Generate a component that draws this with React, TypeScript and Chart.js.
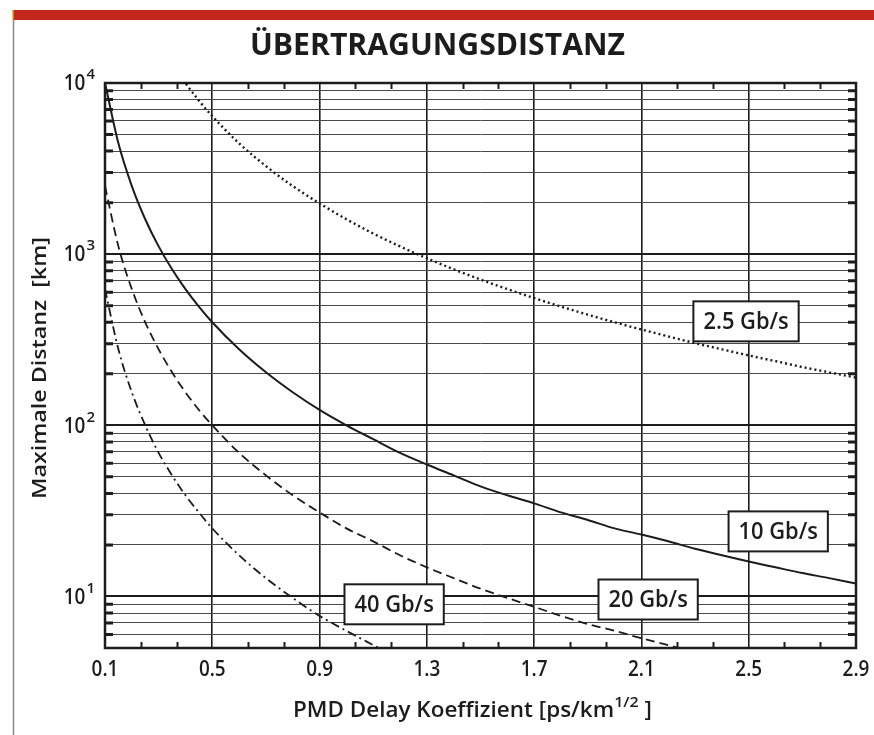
import React, { useEffect, useRef } from "react";
import { Chart, registerables } from "chart.js";

Chart.register(...registerables);

// ---- data ----
const xValues = [0.1, 0.15, 0.2, 0.25, 0.3, 0.35, 0.4, 0.45, 0.5, 0.6, 0.7, 0.8, 0.9, 1.0, 1.1, 1.2, 1.3, 1.4, 1.5, 1.6, 1.7, 1.8, 1.9, 2.0, 2.1, 2.2, 2.3, 2.4, 2.5, 2.6, 2.7, 2.8, 2.9];
const rate2_5 = [null, null, null, null, null, 13100, 10000, 7900, 6400, 4440, 3270, 2500, 1980, 1600, 1320, 1110, 947, 816, 711, 625, 554, 494, 443, 400, 363, 331, 302, 278, 256, 237, 219, 204, 190];
const rate10 = [10000, 4440, 2500, 1600, 1110, 816, 625, 494, 400, 278, 204, 156, 123, 100, 83, 69, 59, 51, 44, 39, 35, 31, 28, 25, 23, 21, 19, 17.4, 16, 14.8, 13.7, 12.8, 11.9];
const rate20 = [2500, 1110, 625, 400, 278, 204, 156, 123, 100, 69, 51, 39, 31, 25, 21, 17.4, 14.8, 12.8, 11.1, 9.8, 8.7, 7.7, 6.9, 6.3, 5.7, 5.2, 4.7, 4.3, null, null, null, null, null];
const rate40 = [625, 278, 156, 100, 69, 51, 39, 31, 25, 17.4, 12.8, 9.8, 7.7, 6.3, 5.2, 4.3, 3.7, null, null, null, null, null, null, null, null, null, null, null, null, null, null, null, null];

const xTickValues = [0.1, 0.5, 0.9, 1.3, 1.7, 2.1, 2.5, 2.9];
const xTickLabels = ["0.1", "0.5", "0.9", "1.3", "1.7", "2.1", "2.5", "2.9"];
const yGridValues = [5, 6, 7, 8, 9, 10, 20, 30, 40, 50, 60, 70, 80, 90, 100, 200, 300, 400, 500, 600, 700, 800, 900, 1000, 2000, 3000, 4000, 5000, 6000, 7000, 8000, 9000, 10000];
const yDecades = [10, 100, 1000, 10000];
const yDecadeExps = ["1", "2", "3", "4"];

const curveLabels = ["2.5 Gb/s", "10 Gb/s", "20 Gb/s", "40 Gb/s"];
const curveLabelX = [2.49, 2.61, 2.125, 1.178];
const curveLabelY = [405, 24, 9.6, 9.0];

const TITLE = "ÜBERTRAGUNGSDISTANZ";
const Y_TITLE = "Maximale Distanz  [km]";
const X_TITLE_MAIN = "PMD Delay Koeffizient [ps/km";
const X_TITLE_SUP = "1/2";
const X_TITLE_END = " ]";

const INK = "#1c1c1c";
const FONT = "'Open Sans', 'DejaVu Sans', sans-serif";

function toPoints(series: (number | null)[]) {
  return xValues.map((x, i) => ({ x, y: series[i] }));
}

function scaledText(ctx: CanvasRenderingContext2D, text: string, x: number, y: number, sx: number, align: "left" | "center" | "right") {
  ctx.save();
  ctx.translate(x, y);
  ctx.scale(sx, 1);
  ctx.textAlign = align;
  ctx.fillText(text, 0, 0);
  ctx.restore();
}

const decorPlugin = {
  id: "decor",
  beforeDraw(chart: any) {
    const ctx = chart.ctx as CanvasRenderingContext2D;
    ctx.save();
    ctx.fillStyle = "#ffffff";
    ctx.fillRect(0, 0, chart.width, chart.height);
    // red band at top
    ctx.fillStyle = "#c4281c";
    ctx.fillRect(12, 10, chart.width - 12, 10);
    ctx.fillStyle = "#e8c060";
    ctx.fillRect(12, 10, 1.5, 10);
    // left frame line
    ctx.strokeStyle = "#8a8a8a";
    ctx.lineWidth = 1.5;
    ctx.beginPath();
    ctx.moveTo(13.5, 20);
    ctx.lineTo(13.5, chart.height);
    ctx.stroke();
    ctx.restore();
  },
  afterDatasetsDraw(chart: any) {
    const ctx = chart.ctx as CanvasRenderingContext2D;
    const { left, right, top, bottom } = chart.chartArea;
    const xs = chart.scales.x;
    const ys = chart.scales.y;
    ctx.save();
    // minor x ticks (thirds between majors), top and bottom, pointing inward
    ctx.strokeStyle = INK;
    ctx.lineWidth = 2;
    for (let i = 0; i < xTickValues.length - 1; i++) {
      const a = xTickValues[i];
      const b = xTickValues[i + 1];
      for (let k = 1; k <= 2; k++) {
        const px = Math.round(xs.getPixelForValue(a + ((b - a) * k) / 3)) + 0.5;
        ctx.beginPath();
        ctx.moveTo(px, bottom);
        ctx.lineTo(px, bottom - 6);
        ctx.moveTo(px, top);
        ctx.lineTo(px, top + 6);
        ctx.stroke();
      }
    }
    // minor y ticks left and right
    ctx.lineWidth = 3;
    for (const v of yGridValues) {
      if (yDecades.includes(v) || v === 5) continue;
      const py = ys.getPixelForValue(v);
      ctx.beginPath();
      ctx.moveTo(left, py);
      ctx.lineTo(left + 8, py);
      ctx.moveTo(right, py);
      ctx.lineTo(right - 8, py);
      ctx.stroke();
    }
    // frame
    ctx.lineWidth = 2.5;
    ctx.strokeRect(left, top, right - left, bottom - top);

    // curve label boxes
    ctx.font = `600 23px ${FONT}`;
    ctx.textBaseline = "middle";
    for (let i = 0; i < curveLabels.length; i++) {
      const cx = xs.getPixelForValue(curveLabelX[i]);
      const cy = ys.getPixelForValue(curveLabelY[i]);
      const w = ctx.measureText(curveLabels[i]).width * 0.95 + 20;
      const h = 40;
      ctx.fillStyle = "#ffffff";
      ctx.fillRect(cx - w / 2, cy - h / 2, w, h);
      ctx.strokeStyle = INK;
      ctx.lineWidth = 2;
      ctx.strokeRect(cx - w / 2, cy - h / 2, w, h);
      ctx.fillStyle = INK;
      scaledText(ctx, curveLabels[i], cx, cy + 1, 0.95, "center");
    }
    ctx.restore();
  },
  afterDraw(chart: any) {
    const ctx = chart.ctx as CanvasRenderingContext2D;
    const { left, right, bottom } = chart.chartArea;
    const xs = chart.scales.x;
    const ys = chart.scales.y;
    ctx.save();
    ctx.fillStyle = INK;
    ctx.textBaseline = "middle";

    // title
    ctx.font = `700 31px ${FONT}`;
    const tw = ctx.measureText(TITLE).width;
    scaledText(ctx, TITLE, (left + right) / 2 - 43, 46, 375 / tw, "center");

    // x tick labels
    ctx.font = `600 21px ${FONT}`;
    xTickValues.forEach((v, i) => {
      scaledText(ctx, xTickLabels[i], xs.getPixelForValue(v), bottom + 22, 0.9, "center");
    });

    // y decade labels with superscripts
    yDecades.forEach((v, i) => {
      const py = ys.getPixelForValue(v);
      ctx.font = `600 15px ${FONT}`;
      const ew = ctx.measureText(yDecadeExps[i]).width;
      const expRight = left - 10;
      ctx.textAlign = "right";
      ctx.fillText(yDecadeExps[i], expRight, py - 8);
      ctx.font = `600 22px ${FONT}`;
      scaledText(ctx, "10", expRight - ew - 1, py + 1, 0.86, "right");
    });

    // y axis title
    ctx.save();
    ctx.translate(40, 368);
    ctx.rotate(-Math.PI / 2);
    ctx.font = `600 20px ${FONT}`;
    const yw = ctx.measureText(Y_TITLE).width;
    scaledText(ctx, Y_TITLE, 0, 0, 262 / yw, "center");
    ctx.restore();

    // x axis title with superscript
    ctx.font = `600 21px ${FONT}`;
    const mw = ctx.measureText(X_TITLE_MAIN).width;
    const ew2 = ctx.measureText(X_TITLE_END).width;
    ctx.font = `600 15px ${FONT}`;
    const sw = ctx.measureText(X_TITLE_SUP).width;
    const total = mw + sw + ew2;
    const sx = 359 / total;
    const x0 = 293;
    const ty = 711;
    ctx.save();
    ctx.translate(x0, ty);
    ctx.scale(sx, 1);
    ctx.textAlign = "left";
    ctx.font = `600 21px ${FONT}`;
    ctx.fillText(X_TITLE_MAIN, 0, 0);
    ctx.font = `600 15px ${FONT}`;
    ctx.fillText(X_TITLE_SUP, mw, -8);
    ctx.font = `600 21px ${FONT}`;
    ctx.fillText(X_TITLE_END, mw + sw, 0);
    ctx.restore();

    ctx.restore();
  },
};

export default function App() {
  const canvasRef = useRef<HTMLCanvasElement | null>(null);

  useEffect(() => {
    const canvas = canvasRef.current;
    if (!canvas) return;
    const chart = new Chart(canvas, {
      type: "line",
      data: {
        datasets: [
          {
            label: "2.5 Gb/s",
            data: toPoints(rate2_5) as any,
            borderColor: INK,
            borderWidth: 2.4,
            borderDash: [2, 3],
            pointRadius: 0,
            cubicInterpolationMode: "monotone",
            spanGaps: false,
          },
          {
            label: "10 Gb/s",
            data: toPoints(rate10) as any,
            borderColor: INK,
            borderWidth: 2,
            pointRadius: 0,
            cubicInterpolationMode: "monotone",
          },
          {
            label: "20 Gb/s",
            data: toPoints(rate20) as any,
            borderColor: INK,
            borderWidth: 1.8,
            borderDash: [9, 5],
            pointRadius: 0,
            cubicInterpolationMode: "monotone",
          },
          {
            label: "40 Gb/s",
            data: toPoints(rate40) as any,
            borderColor: INK,
            borderWidth: 1.8,
            borderDash: [9, 4, 2, 4],
            pointRadius: 0,
            cubicInterpolationMode: "monotone",
          },
        ],
      },
      options: {
        responsive: false,
        animation: false,
        devicePixelRatio: 1,
        layout: { padding: { left: 105, right: 18, top: 83, bottom: 87 } },
        plugins: {
          legend: { display: false },
          title: { display: false },
          tooltip: { enabled: false },
        },
        scales: {
          x: {
            type: "linear",
            min: 0.1,
            max: 2.9,
            afterBuildTicks: (s: any) => {
              s.ticks = xTickValues.map((v) => ({ value: v }));
            },
            afterFit: (s: any) => {
              s.height = 0;
            },
            ticks: { display: false },
            grid: { color: INK, lineWidth: 1.6, drawTicks: false },
            border: { display: false },
          },
          y: {
            type: "logarithmic",
            min: 5,
            max: 10000,
            afterBuildTicks: (s: any) => {
              s.ticks = yGridValues.map((v) => ({ value: v }));
            },
            afterFit: (s: any) => {
              s.width = 0;
            },
            ticks: { display: false },
            grid: {
              color: (c: any) => (yDecades.includes(c.tick?.value) ? INK : "#4a4a4a"),
              lineWidth: (c: any) => (yDecades.includes(c.tick?.value) ? 2 : 1),
              drawTicks: false,
            },
            border: { display: false },
          },
        },
      },
      plugins: [decorPlugin],
    });
    return () => chart.destroy();
  }, []);

  return (
    <div style={{ position: "fixed", left: 0, top: 0, width: 874, height: 735, background: "#fff" }}>
      <canvas ref={canvasRef} width={874} height={735} style={{ display: "block", width: 874, height: 735 }} />
    </div>
  );
}
